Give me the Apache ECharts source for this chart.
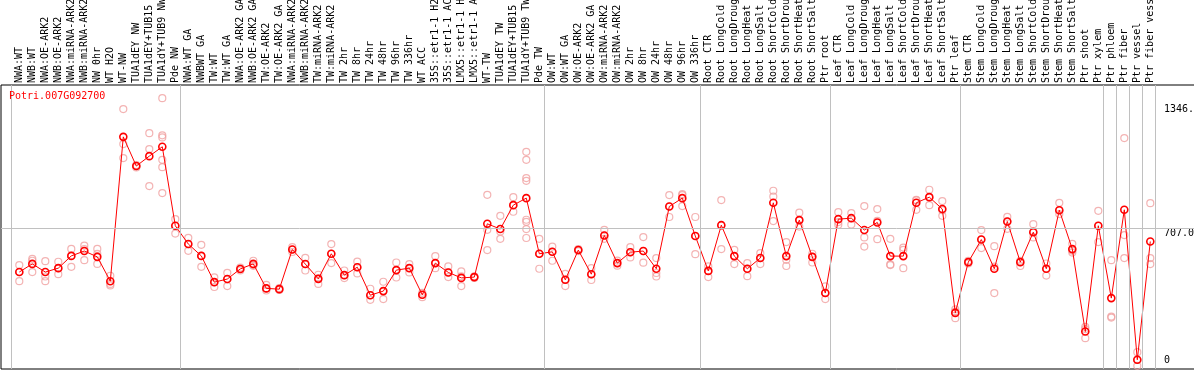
<!DOCTYPE html>
<html><head><meta charset="utf-8">
<script src="https://cdn.jsdelivr.net/npm/echarts@6/dist/echarts.min.js"></script>
<style>html,body{margin:0;padding:0;background:#fff;overflow:hidden}#c{width:1194px;height:370px}</style>
</head><body><div id="c"></div>
<script>
const chartTitle = 'Potri.007G092700';
const categories = [
 'NWA:WT','NWB:WT','NWA:OE-ARK2','NWB:OE-ARK2','NWA:miRNA-ARK2','NWB:miRNA-ARK2','NW 0hr','WT H2O','WT-NW','TUA1dEY NW','TUA1dEY+TUB15 NW','TUA1dY+TUB9 NW','Pde NW',
 'NWA:WT GA','NWBWT GA','TW:WT','TW:WT GA','NWA:OE-ARK2 GA','NWB:OE-ARK2 GA','TW:OE-ARK2','TW:OE-ARK2 GA','NWA:miRNA-ARK2 GA','NWB:miRNA-ARK2 GA','TW:miRNA-ARK2','TW:miRNA-ARK2 GA',
 'TW 2hr','TW 8hr','TW 24hr','TW 48hr','TW 96hr','TW 336hr','WT ACC','35S::etr1-1 H2O','35S::etr1-1 ACC','LMX5::etr1-1 H2O','LMX5::etr1-1 ACC','WT-TW','TUA1dEY TW','TUA1dEY+TUB15 TW','TUA1dY+TUB9 TW','Pde TW',
 'OW:WT','OW:WT GA','OW:OE-ARK2','OW:OE-ARK2 GA','OW:miRNA-ARK2','OW:miRNA-ARK2 GA','OW 2hr','OW 8hr','OW 24hr','OW 48hr','OW 96hr','OW 336hr',
 'Root CTR','Root LongCold','Root LongDrought','Root LongHeat','Root LongSalt','Root ShortCold','Root ShortDrought','Root ShortHeat','Root ShortSalt','Ptr root',
 'Leaf CTR','Leaf LongCold','Leaf LongDrought','Leaf LongHeat','Leaf LongSalt','Leaf ShortCold','Leaf ShortDrought','Leaf ShortHeat','Leaf ShortSalt','Ptr leaf',
 'Stem CTR','Stem LongCold','Stem LongDrought','Stem LongHeat','Stem LongSalt','Stem ShortCold','Stem ShortDrought','Stem ShortHeat','Stem ShortSalt','Ptr shoot','Ptr xylem',
 'Ptr phloem','Ptr fiber','Ptr vessel','Ptr fiber vessel'
];
const means = [
 482,524,482,502,565,590,560,435,1177,1027,1078,1126,720,
 626,565,430,446,498,524,398,394,598,523,447,576,466,507,363,384,492,502,365,528,480,452,456,730,703,826,862,576,
 586,442,595,471,670,528,584,590,499,819,862,667,
 488,723,564,499,554,838,564,749,560,374,
 754,759,698,737,564,564,838,867,806,272,
 533,649,499,742,533,687,499,800,600,176,720,
 348,802,31,639
];
const replicates = [
 [518,482,435],[550,540,482],[538,459,435],[535,502,471],[601,565,509],[618,600,543],[601,575,524],[463,421,413],
 [1320,1140,1068],[1032,1027,1020],[1196,1114,924],[1376,1185,1174,1059,1021,888],[754,720,680],
 [658,626,591],[622,565,509],[455,430,405],[478,446,410],[505,498,490],[540,518,514],[416,398,387],[400,394,390],
 [610,598,585],[555,523,490],[468,450,421],[626,576,528],[490,466,451],[536,507,475],[396,363,339],[432,384,343],
 [531,492,454],[523,502,480],[375,365,353],[564,528,502],[511,480,456],[485,460,410],[460,456,452],
 [879,699,595],[771,690,653],[867,826,792],[1100,1059,965,951,751,740,703,657],[653,576,499],
 [613,586,540],[473,442,410],[600,595,590],[502,471,441],[699,670,653],[541,528,515],[610,584,557],[662,590,530],
 [554,477,459],[878,819,765],[883,878,821],[765,667,574],
 [511,488,456],[852,723,600],[596,564,523],[528,499,461],[579,554,523],[900,870,744],[636,545,513],[787,749,716],[576,560,531],[408,374,343],
 [790,739,725],[785,759,726],[821,660,613],[806,745,651],[653,521,518],[608,596,502],[853,850,802],[905,867,826],[847,800,771],[290,279,245],
 [540,533,526],[698,649,605],[615,510,374],[766,742,704],[540,533,513],[728,687,660],[526,499,464],[838,800,780],[627,592,582],[200,189,142],[797,720,636],
 [543,253,248],[1171,672,554],[70,30,0],[836,554,523]
];
const groupStarts = [0,13,41,53,63,73,84,85,86,87,88];
const yTickLabels = [707.0, 1346.0];
const yZeroLabel = [0];
const refValue = 707.0;

const repData = [];
replicates.forEach((arr, i) => arr.forEach(v => repData.push([i, v])));
const meanData = means.map((v, i) => [i, v]);

const mono = 'DejaVu Sans Mono';
const X_MIN = -1.4077, X_MAX = 90.4385, Y_MIN = -16.5, Y_MAX = 1443.7;

const chart = echarts.init(document.getElementById('c'), null, {renderer: 'canvas'});
const yBase = {
  type: 'value', position: 'right', min: Y_MIN, max: Y_MAX,
  axisLine: {show: false}, axisTick: {show: false}, splitLine: {show: false}
};
chart.setOption({
  animation: false,
  backgroundColor: '#fff',
  title: {text: chartTitle, left: 9, top: 91, padding: 0,
    textStyle: {color: '#ff0000', fontFamily: mono, fontSize: 10, fontWeight: 'normal'}},
  grid: {left: 1, top: 85, width: 1194, height: 284, containLabel: false, outerBoundsMode: 'none',
    show: true, borderColor: '#000', borderWidth: 1, backgroundColor: '#fff'},
  xAxis: {
    type: 'value', position: 'top', min: X_MIN, max: X_MAX,
    axisLine: {show: false}, axisTick: {show: false}, splitLine: {show: false},
    axisLabel: {customValues: categories.map((_, i) => i), formatter: v => categories[Math.round(v)] || '',
      rotate: 90, margin: 2, fontFamily: mono, fontSize: 10, color: '#000', hideOverlap: false}
  },
  yAxis: [
    Object.assign({}, yBase, {axisLabel: {inside: true, customValues: yTickLabels, formatter: v => Number(v).toFixed(1),
      align: 'left', verticalAlign: 'top', margin: 31, fontFamily: mono, fontSize: 10, color: '#000'}}),
    Object.assign({}, yBase, {axisLabel: {inside: true, customValues: yZeroLabel, formatter: v => String(v),
      align: 'left', verticalAlign: 'bottom', margin: 31, fontFamily: mono, fontSize: 10, color: '#000'}})
  ],
  series: [
    {type: 'line', data: [], z: 1, silent: true,
      markLine: {silent: true, symbol: 'none', animation: false, label: {show: false},
        lineStyle: {color: '#c0c0c0', type: 'solid', width: 1},
        emphasis: {disabled: true},
        data: groupStarts.map(s => ({xAxis: s - 0.62})).concat([{yAxis: refValue}])}},
    {type: 'scatter', data: repData, z: 2, symbol: 'circle', symbolSize: 7, silent: true,
      itemStyle: {color: 'rgba(255,255,255,0)', borderColor: '#f0a0a0', borderWidth: 1.2}},
    {type: 'line', data: meanData, z: 3, symbol: 'circle', symbolSize: 7, showAllSymbol: true, silent: true,
      lineStyle: {color: '#ff0000', width: 1},
      itemStyle: {color: 'rgba(255,255,255,0)', borderColor: '#ff0000', borderWidth: 1.6}}
  ]
});
</script></body></html>
